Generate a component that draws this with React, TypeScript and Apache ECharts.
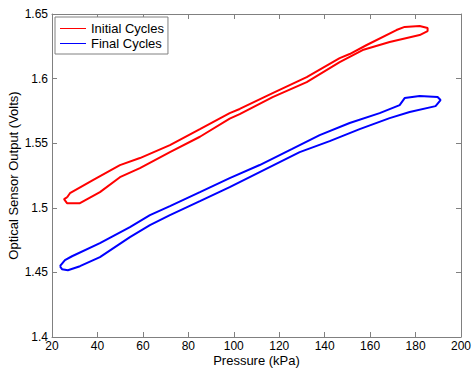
import React, { useEffect, useRef } from "react";
import * as echarts from "echarts";

const seriesNames = ["Initial Cycles", "Final Cycles"];

// Initial cycles loop (kPa, Volts): rising branch then falling branch
const initialPressure = [
  26.6, 27.9, 38.0, 49.9, 58.7, 71.9, 85.1, 98.2, 102.6, 117.1, 132.1, 146.6, 151.0, 158.5, 171.6, 175.2, 181.8, 185.3,
  185.3, 181.8, 168.6, 156.7, 146.6, 132.1, 117.1, 102.6, 98.2, 85.1, 71.9, 58.7, 49.9, 41.1, 32.3, 26.6, 25.3, 26.6,
];
const initialVoltage = [
  1.508, 1.5113, 1.5214, 1.533, 1.5385, 1.5485, 1.5609, 1.5733, 1.5765, 1.5888, 1.6012, 1.6159, 1.619, 1.626, 1.6376, 1.640, 1.6407, 1.6392,
  1.6368, 1.6337, 1.6283, 1.6221, 1.6128, 1.5973, 1.5857, 1.5725, 1.569, 1.555, 1.5431, 1.5307, 1.5237, 1.5121, 1.5036, 1.5036, 1.5067, 1.508,
];

// Final cycles loop
const finalPressure = [
  23.5, 25.7, 28.8, 41.1, 54.3, 63.1, 71.9, 85.1, 98.2, 111.4, 125.5, 137.8, 151.0, 164.2, 173.0, 175.2, 181.8, 189.7, 191.0,
  188.8, 177.4, 168.6, 155.4, 142.2, 129.0, 111.4, 98.2, 85.1, 71.9, 63.1, 54.3, 41.1, 32.3, 27.0, 24.4, 23.5,
];
const finalVoltage = [
  1.4548, 1.4595, 1.4625, 1.4726, 1.485, 1.4943, 1.5013, 1.5121, 1.523, 1.5331, 1.5454, 1.5563, 1.5656, 1.5733, 1.5795, 1.5849, 1.5865, 1.5857, 1.5834,
  1.5787, 1.5741, 1.5694, 1.5609, 1.5516, 1.5431, 1.5276, 1.516, 1.5051, 1.4943, 1.4866, 1.4773, 1.4618, 1.4548, 1.4517, 1.4525, 1.4548,
];

const xMin = 20;
const xMax = 200;
const xStep = 20;
const yMin = 1.4;
const yMax = 1.65;
const yStep = 0.05;

const xTitle = "Pressure (kPa)";
const yTitle = "Optical Sensor Output (Volts)";

const toPairs = (xs: number[], ys: number[]) => xs.map((x, i) => [x, ys[i]]);

export default function App() {
  const ref = useRef<HTMLDivElement>(null);
  useEffect(() => {
    document.body.style.margin = "0";
    if (!ref.current) return;
    const chart = echarts.init(ref.current, null, { renderer: "svg" });
    const font = "'Liberation Sans', Arial, Helvetica, sans-serif";
    const axisLine = { show: true, lineStyle: { color: "#808080", width: 1 } };
    const tick = { show: true, inside: true, length: 5, lineStyle: { color: "#808080" } };
    const fmtY = (v: number) => String(+v.toFixed(2));
    chart.setOption({
      animation: false,
      backgroundColor: "#ffffff",
      textStyle: { fontFamily: font },
      grid: { left: 52, right: 11, top: 14, bottom: 31, containLabel: false, outerBoundsMode: "none" },
      legend: {
        show: true,
        orient: "vertical",
        left: 55,
        top: 17,
        padding: [4, 4, 3, 5],
        itemGap: 0,
        itemWidth: 26,
        itemHeight: 1,
        icon: "rect",
        borderColor: "#808080",
        borderWidth: 1,
        backgroundColor: "#ffffff",
        textStyle: { fontFamily: font, fontSize: 13, color: "#000", lineHeight: 15 },
        data: seriesNames,
      },
      xAxis: [
        {
          type: "value",
          min: xMin,
          max: xMax,
          interval: xStep,
          name: xTitle,
          nameLocation: "middle",
          nameGap: 17,
          nameMoveOverlap: false,
          nameTextStyle: { fontFamily: font, fontSize: 13, color: "#000" },
          axisLine,
          axisTick: tick,
          axisLabel: { fontFamily: font, fontSize: 12, color: "#000", margin: 3 },
          splitLine: { show: false },
        },
        {
          type: "value",
          position: "top",
          min: xMin,
          max: xMax,
          interval: xStep,
          axisLine,
          axisTick: tick,
          axisLabel: { show: false },
          splitLine: { show: false },
        },
      ],
      yAxis: [
        {
          type: "value",
          min: yMin,
          max: yMax,
          interval: yStep,
          name: yTitle,
          nameLocation: "middle",
          nameGap: 32,
          nameMoveOverlap: false,
          nameTextStyle: { fontFamily: font, fontSize: 13, color: "#000" },
          axisLine,
          axisTick: tick,
          axisLabel: { fontFamily: font, fontSize: 12, color: "#000", margin: 4, formatter: fmtY },
          splitLine: { show: false },
        },
        {
          type: "value",
          position: "right",
          min: yMin,
          max: yMax,
          interval: yStep,
          axisLine,
          axisTick: tick,
          axisLabel: { show: false },
          splitLine: { show: false },
        },
      ],
      series: [
        {
          name: seriesNames[0],
          type: "line",
          data: toPairs(initialPressure, initialVoltage),
          symbol: "none",
          lineStyle: { color: "#ff0000", width: 2 },
          itemStyle: { color: "#ff0000" },
        },
        {
          name: seriesNames[1],
          type: "line",
          data: toPairs(finalPressure, finalVoltage),
          symbol: "none",
          lineStyle: { color: "#0000ff", width: 2 },
          itemStyle: { color: "#0000ff" },
        },
      ],
    });
    return () => chart.dispose();
  }, []);
  return <div ref={ref} style={{ width: 472, height: 368, position: "absolute", left: 0, top: 0 }} />;
}
